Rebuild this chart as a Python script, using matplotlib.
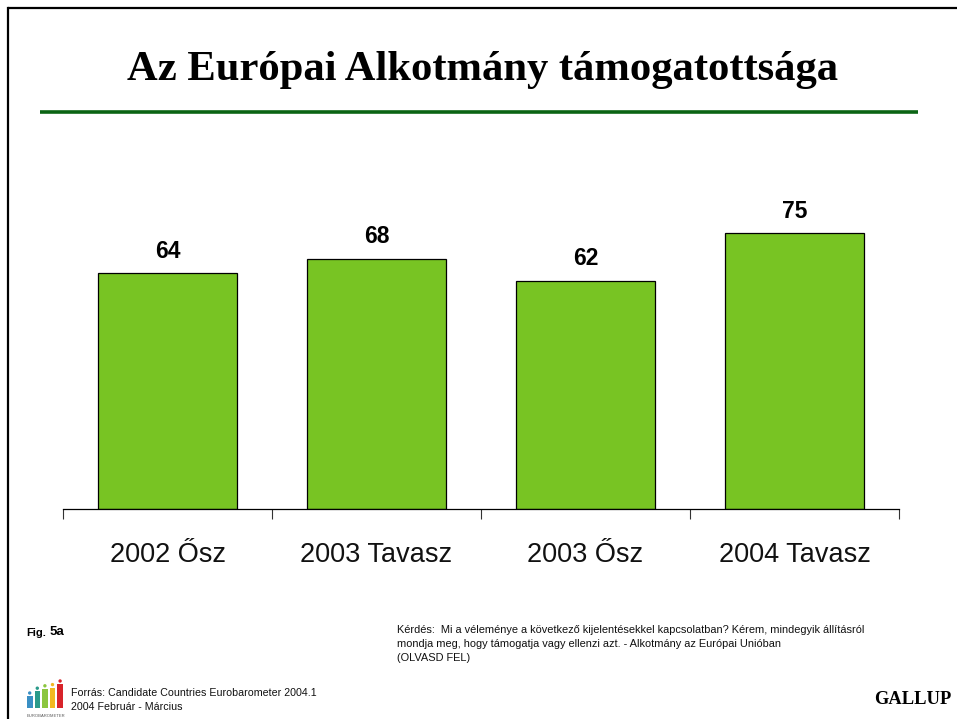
import matplotlib
matplotlib.use('Agg')
import matplotlib.pyplot as plt
from matplotlib.patches import Rectangle, Circle

# data
categories = ['2002 Ősz', '2003 Tavasz', '2003 Ősz', '2004 Tavasz']
values = [64, 68, 62, 75]

title = 'Az Európai Alkotmány támogatottsága'
question = ['Kérdés:  Mi a véleménye a következő kijelentésekkel kapcsolatban? Kérem, mindegyik állításról',
            'mondja meg, hogy támogatja vagy ellenzi azt. - Alkotmány az Európai Unióban',
            '(OLVASD FEL)']
source = ['Forrás: Candidate Countries Eurobarometer 2004.1', '2004 Február - Március']
logo_heights = [0.5, 0.7, 0.8, 0.85, 1.0]
logo_colors = ['#3a8fc4', '#2a9a8a', '#8cc63f', '#f2b820', '#d8232a']

W, H = 957, 719
fig = plt.figure(figsize=(W / 100, H / 100), dpi=100, facecolor='white')

# full figure overlay in pixel coords (y down)
bg = fig.add_axes([0, 0, 1, 1])
bg.set_xlim(0, W)
bg.set_ylim(H, 0)
bg.axis('off')

# slide frame, only left and top are in the crop
bg.plot([8, 8], [H, 8], color='black', lw=1.6, solid_capstyle='projecting')
bg.plot([8, W], [8, 8], color='black', lw=1.6, solid_capstyle='butt')

bg.text(483, 70, title, family='Liberation Serif', weight='bold', fontsize=30.7,
        ha='center', va='center', color='black')
bg.plot([40, 918], [112, 112], color='#0b6414', lw=2.6, solid_capstyle='butt')

bg.text(26, 633, 'Fig.', family='Liberation Sans', weight='bold', fontsize=8, va='center')
bg.text(50, 632, '5a', family='Liberation Sans', weight='bold', fontsize=9.5, va='center')

for i, line in enumerate(question):
    bg.text(397, 630 + i * 14.2, line, family='Liberation Sans', fontsize=7.9, va='center', color='#111111')
for i, line in enumerate(source):
    bg.text(71, 693 + i * 13.5, line, family='Liberation Sans', fontsize=7.7, va='center', color='#111111')
bg.text(951, 700, 'GALLUP', family='Liberation Serif', weight='bold', fontsize=13.3,
        ha='right', va='center', color='black')

# little logo
for i, (h, c) in enumerate(zip(logo_heights, logo_colors)):
    bg.add_patch(Rectangle((27 + i * 7.6, 708 - h * 24), 5.5, h * 24, color=c, lw=0))
    bg.add_patch(Circle((29.7 + i * 7.6, 708 - h * 24 - 3), 1.7, color=c, lw=0))
bg.text(46, 716, 'EUROBAROMETER', family='Liberation Sans', fontsize=3, ha='center', va='center', color='#555555')

# bar chart
ax = fig.add_axes([63 / W, 1 - 509 / H, (899 - 63) / W, (509 - 180) / H])
ax.patch.set_alpha(0)
x = range(len(values))
ax.bar(x, values, width=0.667, color='#78c423', edgecolor='black', linewidth=0.9)
ax.set_xlim(-0.5, 3.5)
ax.set_ylim(0, 329 / (509 - 233) * 75)

for i, v in zip(x, values):
    ax.annotate(str(v), (i, v), xytext=(0, 7.5), textcoords='offset points', ha='center', va='bottom',
                family='Liberation Sans', weight='bold', fontsize=16.5, color='black')

for s in ['top', 'left', 'right']:
    ax.spines[s].set_visible(False)
ax.spines['bottom'].set_linewidth(0.9)
ax.yaxis.set_visible(False)
ax.set_xticks([-0.5, 0.5, 1.5, 2.5, 3.5])
ax.set_xticklabels([])
ax.tick_params(axis='x', length=7, width=0.8, color='#333333')
ax.set_xticks(list(x), minor=True)
ax.set_xticklabels(categories, minor=True, family='Liberation Sans', fontsize=19.5, color='#111111')
ax.tick_params(axis='x', which='minor', length=0, pad=23.5)

fig.savefig('out.png', dpi=100)
